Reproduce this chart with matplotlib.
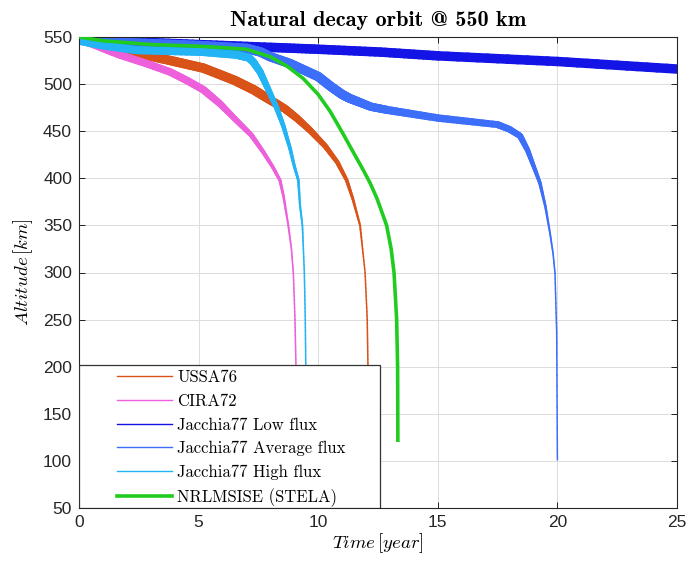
import matplotlib
matplotlib.use('Agg')
import matplotlib.pyplot as plt
import numpy as np
from matplotlib.collections import LineCollection
from matplotlib.lines import Line2D
from matplotlib.patches import Rectangle

plt.rcParams['mathtext.fontset'] = 'cm'

# Data (time in years, altitude in km)
ussa_t = [0, 1.0, 2.4, 4.0, 5.2, 6.5, 7.3, 8.0, 8.6, 9.1, 9.66, 10.3, 10.8, 11.19, 11.45, 11.75,
          11.96, 12.05, 12.08, 12.1]
ussa_h = [548, 542, 533, 524, 517, 504, 494, 483, 474, 464, 451, 434, 417, 398, 378, 350,
          300, 250, 200, 120]

cira_t = [0, 1.0, 1.7, 2.8, 3.8, 4.5, 5.2, 5.9, 6.6, 7.2, 7.7, 8.1, 8.4, 8.55, 8.75, 8.88, 8.96,
          9.03, 9.07, 9.09]
cira_h = [548, 538, 531, 522, 513, 504, 494, 479, 461, 446, 428, 412, 398, 381, 350, 325, 300,
          250, 200, 120]

low_t = [0, 2, 5, 8, 10, 12.6, 15, 20, 25]
low_h = [548, 545, 542, 539, 537, 534, 530, 524, 516]

avg_t = [0, 2, 5, 7, 7.6, 8.0, 8.8, 9.4, 10.0, 10.5, 11.0, 11.3, 11.7, 12.2, 12.9, 15.0, 17.5,
         18.0, 18.44, 18.75, 19.05, 19.27, 19.5, 19.69, 19.82, 19.9, 19.97, 20.0]
avg_h = [548, 544, 541, 538, 534, 529, 522, 515, 508, 498, 489, 485, 481, 476, 472.5, 464, 457,
         452, 445, 430, 410, 395, 370, 342, 320, 299, 236, 101]

high_t = [0, 1.0, 2.4, 5.2, 6.6, 7.1, 7.3, 7.57, 7.9, 8.26, 8.55, 8.82, 9.0, 9.17, 9.24, 9.34,
          9.42, 9.46, 9.48, 9.5]
high_h = [546, 541, 536, 534, 531, 528, 523, 513, 495, 475, 455, 432, 413, 398, 371, 350,
          300, 250, 200, 120]

stela_t = [0, 1.0, 3.0, 5.2, 7.0, 8.0, 8.7, 9.37, 10.0, 10.5, 11.0, 11.46, 11.9, 12.17, 12.45,
           12.58, 12.86, 13.05, 13.17, 13.28, 13.32, 13.33]
stela_h = [550, 546, 542, 540, 537, 529, 519, 506, 489, 471, 449, 428, 408, 395, 379,
           370, 350, 325, 300, 250, 200, 122]

labels = ['USSA76', 'CIRA72', 'Jacchia77 Low flux', 'Jacchia77 Average flux',
          'Jacchia77 High flux', 'NRLMSISE (STELA)']

x_ticks = [0, 5, 10, 15, 20, 25]
y_ticks = [50, 100, 150, 200, 250, 300, 350, 400, 450, 500, 550]

c_ussa = '#D95319'
c_cira = '#EE5FDC'
c_low = '#1414E6'
c_avg = '#3C6EFA'
c_high = '#23B4F5'
c_stela = '#1FCC1F'

PX = 72 / 100.0  # points per pixel at dpi 100


def band(ax, t, h, color, wmax_px, wmin_px=1.5, lo=300.0, hi=490.0, nsub=12):
    # the oscillating apogee/perigee makes the curve look like a thick band
    # at high altitude that narrows as the orbit decays.
    # each segment is split into short pieces only so the width tapers smoothly
    segs, mids = [], []
    for i in range(len(t) - 1):
        for k in range(nsub):
            a, b = k / nsub, (k + 1) / nsub
            p0 = (t[i] + a * (t[i + 1] - t[i]), h[i] + a * (h[i + 1] - h[i]))
            p1 = (t[i] + b * (t[i + 1] - t[i]), h[i] + b * (h[i + 1] - h[i]))
            segs.append([p0, p1])
            mids.append((p0[1] + p1[1]) / 2)
    f = np.clip((np.array(mids) - lo) / (hi - lo), 0, 1) ** 2
    w = (wmin_px + (wmax_px - wmin_px) * f) * PX
    lc = LineCollection(segs, colors=color, linewidths=w, capstyle='round',
                        joinstyle='round', zorder=2)
    ax.add_collection(lc)


fig = plt.figure(figsize=(6.88, 5.66), dpi=100)
ax = fig.add_axes([79 / 688, 1 - 508 / 566, 598 / 688, 471 / 566])

band(ax, low_t, low_h, c_low, 9.5)
band(ax, avg_t, avg_h, c_avg, 9.5)
band(ax, ussa_t, ussa_h, c_ussa, 9.5)
band(ax, cira_t, cira_h, c_cira, 7.5)
band(ax, high_t, high_h, c_high, 8, hi=530)
ax.plot(stela_t, stela_h, color=c_stela, lw=2.6, zorder=3)

ax.set_xlim(0, 25)
ax.set_ylim(50, 550)
ax.set_xticks(x_ticks)
ax.set_yticks(y_ticks)
ax.grid(True, color='#dcdcdc', lw=0.7)
ax.set_axisbelow(True)
ax.tick_params(direction='in', top=True, right=True, length=4, width=0.6,
               labelsize=12.5, pad=5)
for lab in ax.get_xticklabels() + ax.get_yticklabels():
    lab.set_family('Liberation Sans')
    lab.set_color('#262626')
for s in ax.spines.values():
    s.set_linewidth(0.8)
    s.set_color('#262626')

ax.set_xlabel(r'$Time\,[year]$', fontsize=13.5, labelpad=1)
ax.set_ylabel(r'$Altitude\,[km]$', fontsize=13.5, labelpad=6)
ax.set_title('Natural decay orbit @ 550 km', family='cmb10', fontsize=16, pad=8)

# legend box (MATLAB style, wide padding)
ax.add_patch(Rectangle((0, 0), (380 - 79) / 598, (508 - 365) / 471, transform=ax.transAxes,
                       facecolor='white', edgecolor='#333333', lw=0.9, zorder=4))
handles = [Line2D([], [], color=c_ussa, lw=1.0),
           Line2D([], [], color=c_cira, lw=1.0),
           Line2D([], [], color=c_low, lw=1.0),
           Line2D([], [], color=c_avg, lw=1.0),
           Line2D([], [], color=c_high, lw=1.0),
           Line2D([], [], color=c_stela, lw=2.6)]
leg = ax.legend(handles, labels, loc='upper left',
                bbox_to_anchor=((117 - 79) / 598, (508 - 370) / 471),
                frameon=False, borderpad=0, borderaxespad=0, handlelength=3.3,
                handletextpad=0.3, labelspacing=0.5,
                prop={'family': 'cmr10', 'size': 12})
leg.set_zorder(5)

fig.savefig('out.png', dpi=100)
